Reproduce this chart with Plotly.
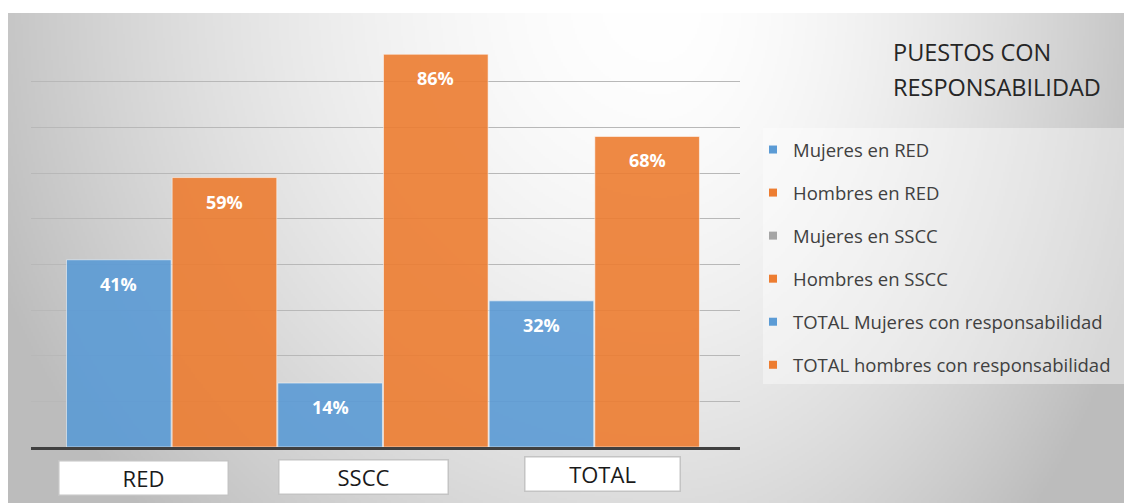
import base64, struct, zlib
import numpy as np
import plotly.graph_objects as go

# ---------------- data ----------------
series = ["Mujeres en RED", "Hombres en RED", "Mujeres en SSCC",
          "Hombres en SSCC", "TOTAL Mujeres con responsabilidad",
          "TOTAL hombres con responsabilidad"]
values = [41, 59, 14, 86, 32, 68]
categories = ["RED", "SSCC", "TOTAL"]
legend_title = ["PUESTOS CON", "RESPONSABILIDAD"]

# ---------------- style ----------------
BLUE, ORANGE, GRAY = "#5b9bd5", "#ed7d31", "#a5a5a5"
bar_colors = [BLUE, ORANGE, BLUE, ORANGE, BLUE, ORANGE]
legend_colors = [BLUE, ORANGE, GRAY, ORANGE, BLUE, ORANGE]

SW, SH = 1132, 503          # screen size
OFF = 8                      # page body margin
W, H = SW - OFF, SH - OFF    # figure size
PX0, PX1, PY0, PY1 = 31, 740, 36, 447   # plot area in screen px
L, R, T, B = PX0 - OFF, SW - PX1, PY0 - OFF, SH - PY1
PW, PH = PX1 - PX0, PY1 - PY0


def px_x(x):
    return (x - PX0) / PW


def px_y(y):
    return (PY1 - y) / PH


# ---------- background gradient as an inline PNG ----------
def make_png(arr):
    h, w, _ = arr.shape
    raw = b"".join(b"\x00" + arr[i].tobytes() for i in range(h))

    def chunk(t, d):
        return (struct.pack(">I", len(d)) + t + d +
                struct.pack(">I", zlib.crc32(t + d) & 0xffffffff))
    png = (b"\x89PNG\r\n\x1a\n" +
           chunk(b"IHDR", struct.pack(">IIBBBBB", w, h, 8, 2, 0, 0, 0)) +
           chunk(b"IDAT", zlib.compress(raw, 9)) + chunk(b"IEND", b""))
    return "data:image/png;base64," + base64.b64encode(png).decode()


x0, x1, y0, y1 = OFF, SW, 13, SH
gw, gh = (x1 - x0) // 2, (y1 - y0) // 2
X = np.linspace(x0, x1, gw)[None, :]
Y = np.linspace(y0, y1, gh)[:, None]
cx = 660.0
dx = np.where(X < cx, (X - cx) / (cx - 6), (X - cx) / (x1 - cx))
dy = Y / 680.0
r = np.sqrt(dx ** 2 + dy ** 2)
v = np.clip(255 - 57 * r ** 1.7, 188, 255).astype(np.uint8)
img = np.repeat(v[:, :, None], 3, axis=2)
bg_uri = make_png(np.ascontiguousarray(img))

fig = go.Figure()

for name, val, col in zip(series, values, bar_colors):
    fig.add_trace(go.Bar(
        x=[name], y=[val], name=name, showlegend=False,
        marker=dict(color=col, opacity=0.9,
                    line=dict(color="rgba(255,255,255,0.55)", width=1)),
        hoverinfo="skip"))

for i, (name, col) in enumerate(zip(series, legend_colors)):
    fig.add_trace(go.Scatter(
        x=[None], y=[None], mode="markers", name=name,
        legendgroup=f"g{i}",
        marker=dict(symbol="square", size=8, color=col)))

annotations = []
for name, val in zip(series, values):
    annotations.append(dict(
        x=name, y=val, xref="x", yref="y", text=f"{val}%",
        showarrow=False, yshift=-24,
        font=dict(family="Open Sans", size=18, color="white", weight="bold")))

box_centers = [(143, 478), (363, 476.5), (602, 473.5)]
box_widths = [168, 168, 154]
for cat, (bx, by), bw in zip(categories, box_centers, box_widths):
    annotations.append(dict(
        x=px_x(bx), y=px_y(by), xref="paper", yref="paper", text=cat,
        showarrow=False, xanchor="center", yanchor="middle",
        width=bw, height=33, bgcolor="white", bordercolor="#c4c4c4",
        borderwidth=1.5, borderpad=0,
        font=dict(family="Open Sans", size=22, color="#1a1a1a")))

for line, ty in zip(legend_title, [52, 87]):
    annotations.append(dict(
        x=px_x(891), y=px_y(ty), xref="paper", yref="paper", text=line,
        showarrow=False, xanchor="left", yanchor="middle",
        font=dict(family="Open Sans", size=23.5, color="#262626")))

fig.update_layout(
    width=W, height=H,
    margin=dict(l=L, r=R, t=T, b=B, pad=0, autoexpand=False),
    paper_bgcolor="white", plot_bgcolor="rgba(0,0,0,0)",
    barmode="overlay", bargap=0.01,
    images=[dict(source=bg_uri, xref="paper", yref="paper",
                 x=px_x(x0), y=px_y(y0),
                 sizex=(x1 - x0) / PW, sizey=(y1 - y0) / PH,
                 xanchor="left", yanchor="top", sizing="stretch",
                 layer="below")],
    shapes=[dict(type="rect", xref="paper", yref="paper",
                 x0=px_x(763), x1=px_x(SW), y0=px_y(384), y1=px_y(128),
                 fillcolor="rgba(255,255,255,0.4)", line=dict(width=0),
                 layer="below")],
    xaxis=dict(type="category", range=[-0.831, 5.879], showticklabels=False,
               showgrid=False, showline=True, linecolor="#404040",
               linewidth=3, ticks="", zeroline=False),
    yaxis=dict(range=[0, 90], dtick=10, showticklabels=False,
               showgrid=True, gridcolor="#b8b8b8", gridwidth=1,
               zeroline=False, showline=False, ticks=""),
    legend=dict(x=px_x(753), y=px_y(131), xanchor="left", yanchor="top",
                bgcolor="rgba(0,0,0,0)", traceorder="grouped",
                tracegroupgap=16,
                font=dict(family="Open Sans", size=18.5, color="#404040")),
    annotations=annotations,
    hovermode=False,
)

fig.write_html("out.html")
